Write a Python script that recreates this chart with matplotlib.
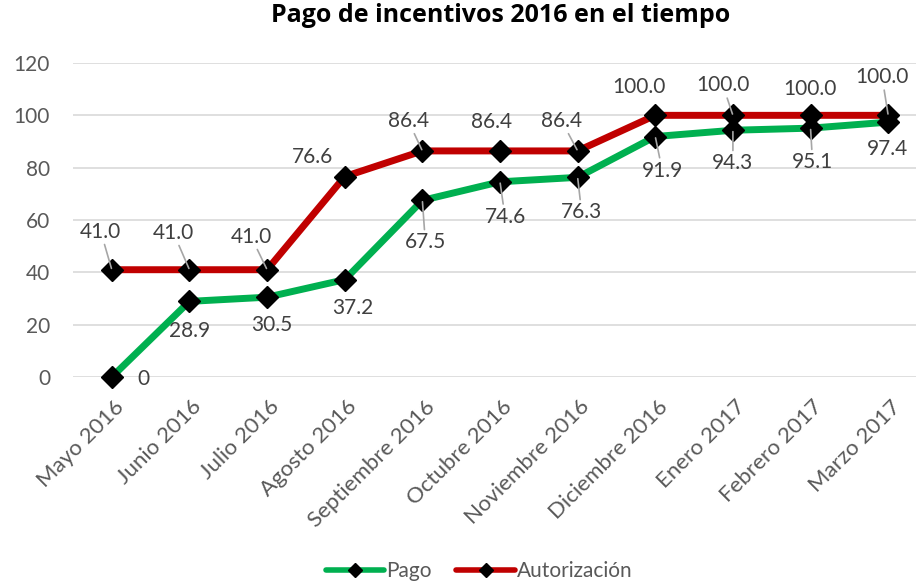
import matplotlib
matplotlib.use("Agg")
import matplotlib.pyplot as plt
from matplotlib.lines import Line2D
import matplotlib.transforms as mtransforms

plt.rcParams['font.family'] = ['Lato', 'DejaVu Sans']

# Datos
meses = ["Mayo 2016", "Junio 2016", "Julio 2016", "Agosto 2016", "Septiembre 2016",
         "Octubre 2016", "Noviembre 2016", "Diciembre 2016", "Enero 2017",
         "Febrero 2017", "Marzo 2017"]
pago = [0, 28.9, 30.5, 37.2, 67.5, 74.6, 76.3, 91.9, 94.3, 95.1, 97.4]
autorizacion = [41.0, 41.0, 41.0, 76.6, 86.4, 86.4, 86.4, 100.0, 100.0, 100.0, 100.0]
etiquetas_pago = ["0", "28.9", "30.5", "37.2", "67.5", "74.6", "76.3", "91.9", "94.3", "95.1", "97.4"]
etiquetas_aut = ["41.0", "41.0", "41.0", "76.6", "86.4", "86.4", "86.4", "100.0", "100.0", "100.0", "100.0"]

# posicion de cada etiqueta (pixeles desde el punto) y si lleva linea guia
off_pago = [(32, -2), (0, -30), (5, -28), (8, -28), (3, -42), (5, -35), (4, -35), (7, -34), (0, -33), (2, -34), (-1, -27)]
guia_pago = [False, False, False, False, True, True, True, True, True, True, False]
off_aut = [(-11, 38), (-16, 37), (-16, 33), (-32, 20), (-14, 30), (-8, 29), (-16, 30), (-16, 28), (-10, 30), (-1, 26), (-6, 38)]
guia_aut = [True, True, True, False, True, False, True, False, True, False, True]

VERDE = "#00B050"
ROJO = "#C00000"
TXT = "#404040"
FS = 15

fig = plt.figure(figsize=(9.16, 5.83), dpi=100)
ax = fig.add_axes([73 / 916, 1 - 377 / 583, (927 - 73) / 916, (377 - 63) / 583])

x = list(range(len(meses)))
ax.plot(x, pago, color=VERDE, lw=5, marker="D", ms=11.5, mfc="black", mec="black", mew=1,
        zorder=3, clip_on=False)
ax.plot(x, autorizacion, color=ROJO, lw=5, marker="D", ms=11.5, mfc="black", mec="black", mew=1,
        zorder=3, clip_on=False)

def etiquetar(vals, textos, offs, guias):
    for i, (v, t) in enumerate(zip(vals, textos)):
        dx, dy = offs[i]
        props = None
        if guias[i]:
            props = dict(arrowstyle="-", color="#A6A6A6", lw=1.2, shrinkA=0, shrinkB=1)
        ax.annotate(t, (i, v), xytext=(dx, dy), textcoords="offset pixels",
                    ha="center", va="center", fontsize=FS, color=TXT,
                    arrowprops=props, zorder=4)

etiquetar(pago, etiquetas_pago, off_pago, guia_pago)
etiquetar(autorizacion, etiquetas_aut, off_aut, guia_aut)

ax.set_xlim(-0.5, 10.5)
ax.set_ylim(0, 120)
ax.set_yticks(range(0, 121, 20))
ax.grid(axis="y", color="#D9D9D9", lw=1.2)
ax.set_axisbelow(True)
for s in ax.spines.values():
    s.set_visible(False)
ax.tick_params(length=0, colors="#595959", labelsize=FS)
ax.tick_params(axis="y", pad=16.5)
ax.set_xticks(x)
ax.set_xticklabels(meses, rotation=45, ha="right", rotation_mode="anchor", fontsize=16)
ax.tick_params(axis="x", pad=14)
desplaza = mtransforms.ScaledTranslation(2 / 100, 0, fig.dpi_scale_trans)
for lab in ax.get_xticklabels():
    lab.set_transform(lab.get_transform() + desplaza)

fig.text(501 / 916, 1 - 22 / 583, "Pago de incentivos 2016 en el tiempo", ha="center", va="baseline",
         fontsize=18, fontweight="bold", color="black", family=["Open Sans", "DejaVu Sans"])

handles = [Line2D([0], [0], color=VERDE, lw=4, marker="D", ms=7.5, mfc="black", mec="black", solid_capstyle="round"),
           Line2D([0], [0], color=ROJO, lw=4, marker="D", ms=7.5, mfc="black", mec="black", solid_capstyle="round")]
fig.legend(handles, ["Pago", "Autorización"], loc="center", bbox_to_anchor=(479 / 916, 1 - 571 / 583),
           ncol=2, frameon=False, fontsize=FS, labelcolor="#595959", handlelength=2.8,
           handletextpad=0.1, columnspacing=1.2, borderpad=0)

fig.savefig("out.png", dpi=100)
